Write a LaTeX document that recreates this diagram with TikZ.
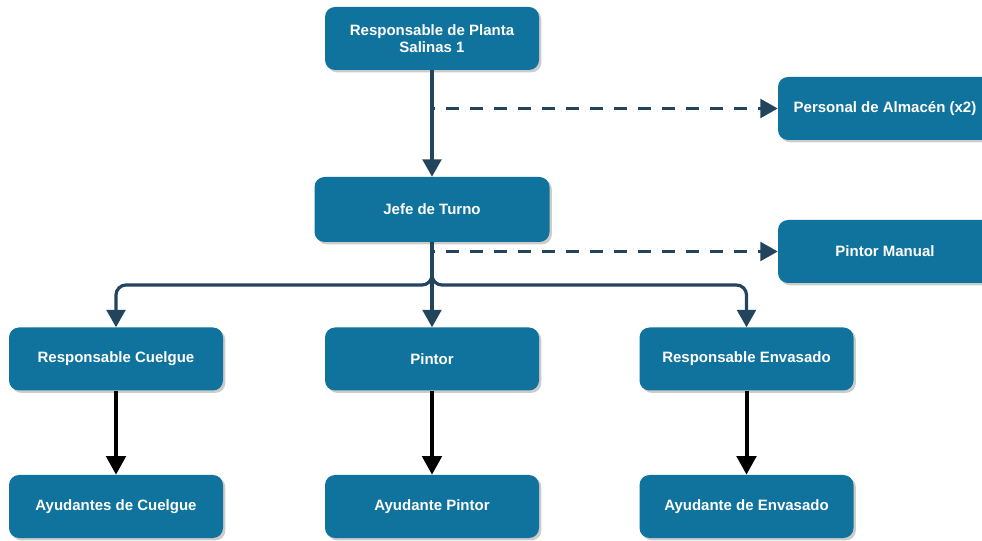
\documentclass[tikz,border=0pt]{standalone}
\usepackage{fontspec}
\setmainfont{Liberation Sans}
\usetikzlibrary{arrows.meta,shadows}

\definecolor{boxblue}{HTML}{10739E}
\definecolor{linknavy}{HTML}{23445D}

\tikzset{
  role/.style={rectangle, rounded corners=7.5pt, fill=boxblue, text=white,
    font=\bfseries\fontsize{11.25}{12.75}\selectfont, align=center,
    minimum width=160.5pt, minimum height=47.25pt, inner sep=0pt,
    drop shadow={shadow xshift=1.8pt, shadow yshift=-1.8pt, fill=black, opacity=0.2}},
  wide/.style={minimum width=176.25pt, minimum height=48.75pt},
  link/.style={draw=linknavy, line width=2.4pt, rounded corners=7.5pt,
    -{Triangle[length=13pt,width=14pt]}},
  dlink/.style={link, dash pattern=on 9.75pt off 8.25pt, dash phase=7.5pt},
  chain/.style={draw=black, line width=3pt, -{Triangle[length=14pt,width=14.5pt]}},
}

\begin{document}
\begin{tikzpicture}[x=0.75pt, y=-0.75pt]
  \useasboundingbox (0,0) rectangle (982,541);
  \clip (0,0) rectangle (982,541);
  \fill[white] (0,0) rectangle (982,541);

  % management
  \node[role] (head) at (432,38.5) {Responsable de Planta\\Salinas 1};
  \node[role, wide] (shift) at (432,209.5) {Jefe de Turno};

  % side staff
  \node[role] (store) at (885,108.5) {Personal de Almacén (x2)};
  \node[role] (manual) at (885,251.5) {Pintor Manual};

  % area leads
  \node[role] (hang) at (116,359) {Responsable Cuelgue};
  \node[role] (paint) at (432,359) {Pintor};
  \node[role] (pack) at (746.5,359) {Responsable Envasado};

  % helpers
  \node[role] (hanghelp) at (116,506.5) {Ayudantes de Cuelgue};
  \node[role] (painthelp) at (432,506.5) {Ayudante Pintor};
  \node[role] (packhelp) at (746.5,506.5) {Ayudante de Envasado};

  % split point under the shift lead
  \coordinate (bus) at (432,285);

  % connectors
  \draw[link] (head) -- (shift);
  \draw[dlink] (head.south |- store.west) -- (store.west);
  \draw[dlink] (shift.south |- manual.west) -- (manual.west);
  \draw[link] (shift.south) -- (bus) -| (hang.north);
  \draw[link] (shift.south) -- (bus) -| (pack.north);
  \draw[link] (shift) -- (paint);

  \draw[chain] (hang) -- (hanghelp);
  \draw[chain] (paint) -- (painthelp);
  \draw[chain] (pack) -- (packhelp);
\end{tikzpicture}
\end{document}
